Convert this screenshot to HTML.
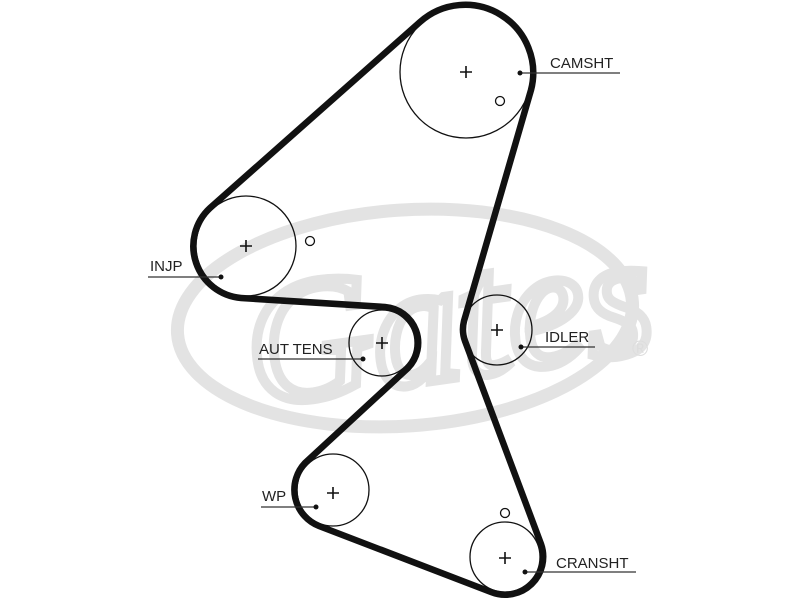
<!DOCTYPE html>
<html><head><style>html,body{margin:0;padding:0;background:#fff}</style></head>
<body>
<svg width="800" height="600" viewBox="0 0 800 600" xmlns="http://www.w3.org/2000/svg">
<rect width="800" height="600" fill="#fff"/>
<g>
<ellipse cx="405" cy="318" rx="228" ry="108" fill="none" stroke="#e3e3e3" stroke-width="13" transform="rotate(-4 405 318)"/>
<text x="245" y="385" font-family="Liberation Serif, serif" font-style="italic" font-size="175" fill="none" stroke="#e3e3e3" stroke-width="10" transform="rotate(-8 400 330)">Gates</text>
<text x="632" y="356" font-family="Liberation Sans, sans-serif" font-size="22" fill="#ddd">®</text>
</g>
<g fill="none" stroke="#111" stroke-width="1.3">
<circle cx="466" cy="72" r="66"/>
<circle cx="246" cy="246" r="50"/>
<circle cx="382" cy="343" r="33"/>
<circle cx="497" cy="330" r="35"/>
<circle cx="333" cy="490" r="36"/>
<circle cx="505" cy="557" r="35"/>
<circle cx="500" cy="101" r="4.5"/>
<circle cx="310" cy="241" r="4.5"/>
<circle cx="505" cy="513" r="4.5"/>
</g>
<path d="M420,22 A68,68 0 0 1 531,90 L464,321 A34,34 0 0 0 465,341 L541,544 A38,38 0 0 1 491,592 L319,526 A39,39 0 0 1 305,463 L408,368 A36,36 0 0 0 385,307 L241,298 A52,52 0 0 1 210,208 Z" fill="none" stroke="#111" stroke-width="6.5" stroke-linejoin="round"/>
<g stroke="#111" stroke-width="1.6">
<path d="M460,72h12M466,66v12"/>
<path d="M240,246h12M246,240v12"/>
<path d="M376,343h12M382,337v12"/>
<path d="M491,330h12M497,324v12"/>
<path d="M327,493h12M333,487v12"/>
<path d="M499,558h12M505,552v12"/>
</g>
<g stroke="#333" stroke-width="1.2">
<line x1="520" y1="73" x2="620" y2="73"/>
<line x1="148" y1="277" x2="221" y2="277"/>
<line x1="258" y1="359" x2="363" y2="359"/>
<line x1="521" y1="347" x2="595" y2="347"/>
<line x1="261" y1="507" x2="316" y2="507"/>
<line x1="525" y1="572" x2="636" y2="572"/>
</g>
<g fill="#111">
<circle cx="520" cy="73" r="2.5"/><circle cx="221" cy="277" r="2.5"/><circle cx="363" cy="359" r="2.5"/>
<circle cx="521" cy="347" r="2.5"/><circle cx="316" cy="507" r="2.5"/><circle cx="525" cy="572" r="2.5"/>
</g>
<g font-family="Liberation Sans, sans-serif" font-size="15" fill="#222">
<text x="550" y="68">CAMSHT</text>
<text x="150" y="271">INJP</text>
<text x="259" y="354">AUT TENS</text>
<text x="545" y="342">IDLER</text>
<text x="262" y="501">WP</text>
<text x="556" y="568">CRANSHT</text>
</g>
</svg>
</body></html>
